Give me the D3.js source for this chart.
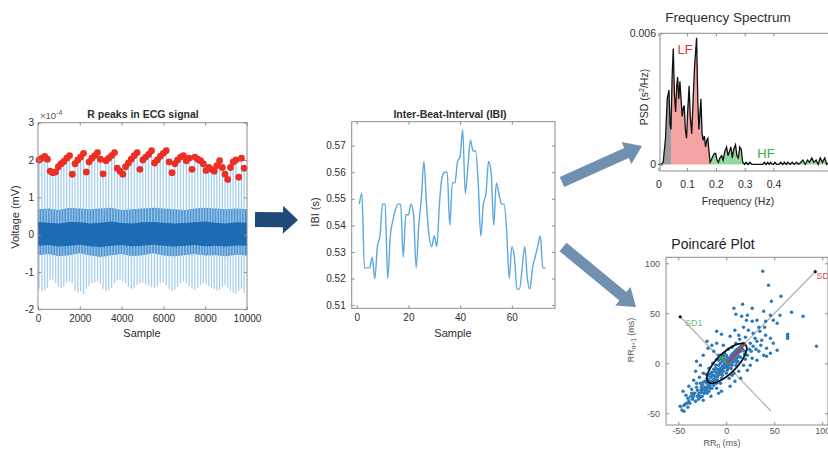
<!DOCTYPE html>
<html>
<head>
<meta charset="utf-8">
<script src="https://cdn.jsdelivr.net/npm/d3@7"></script>
<style>
body { margin: 0; background: #fff; }
svg { display: block; }
</style>
</head>
<body>
<svg id="fig" width="828" height="455"></svg>
<script>
// ---- data ----

// inter-beat intervals (s), samples 1..73
var ibiValues = [
  0.548, 0.552, 0.524, 0.524, 0.524, 0.528, 0.520, 0.532, 0.536, 0.548,
  0.548, 0.520, 0.536, 0.542, 0.546, 0.548, 0.548, 0.528, 0.544, 0.544,
  0.548, 0.544, 0.524, 0.540, 0.550, 0.564, 0.548, 0.536, 0.532, 0.536,
  0.532, 0.548, 0.558, 0.560, 0.560, 0.540, 0.556, 0.556, 0.564, 0.566,
  0.576, 0.552, 0.562, 0.572, 0.568, 0.568, 0.556, 0.536, 0.548, 0.552,
  0.564, 0.560, 0.540, 0.556, 0.552, 0.548, 0.548, 0.538, 0.520, 0.532,
  0.528, 0.516, 0.516, 0.524, 0.532, 0.520, 0.516, 0.524, 0.528, 0.532,
  0.536, 0.524, 0.524
];

// ECG: R peak amplitude and S trough amplitude per beat (x1e-4 mV)
var rAmp = [
  2.00, 2.05, 2.10, 2.02, 1.70, 1.66, 1.68, 1.82, 1.90, 1.96,
  2.05, 2.12, 1.62, 1.90, 2.00, 2.08, 2.18, 1.68, 1.95, 2.05,
  2.12, 2.20, 2.02, 1.63, 1.98, 2.05, 2.12, 2.20, 1.78, 1.70,
  1.62, 1.82, 1.92, 2.02, 2.12, 2.20, 1.75, 2.00, 2.08, 2.15,
  2.25, 1.92, 2.00, 2.10, 2.18, 2.25, 1.95, 1.66, 1.90, 2.00,
  2.08, 2.12, 1.98, 2.05, 1.75, 2.08, 2.02, 1.98, 1.90, 1.72,
  1.80, 1.75, 1.70, 1.85, 1.98, 1.80, 1.62, 1.48, 1.80, 1.95,
  2.00, 1.54, 2.05, 1.78
];
var sAmp = [
  -1.45, -1.50, -1.48, -1.42, -1.22, -1.20, -1.30, -1.40, -1.42, -1.38,
  -1.28, -1.25, -1.30, -1.50, -1.55, -1.52, -1.60, -1.45, -1.38, -1.30,
  -1.28, -1.25, -1.32, -1.45, -1.50, -1.48, -1.42, -1.30, -1.22, -1.20,
  -1.25, -1.30, -1.40, -1.45, -1.42, -1.35, -1.30, -1.28, -1.32, -1.36,
  -1.40, -1.42, -1.38, -1.30, -1.28, -1.35, -1.45, -1.50, -1.48, -1.40,
  -1.30, -1.25, -1.30, -1.38, -1.45, -1.48, -1.42, -1.35, -1.30, -1.32,
  -1.38, -1.42, -1.46, -1.50, -1.48, -1.40, -1.35, -1.42, -1.50, -1.55,
  -1.58, -1.50, -1.45, -1.56
];
var fsHz = 248, firstPeakSample = 50;

// ECG baseline band (dense part of the trace)
var bandSamples = [0, 500, 1000, 1500, 2000, 2500, 3000, 3500, 4000, 4500, 5000,
  5500, 6000, 6500, 7000, 7500, 8000, 8500, 9000, 9500, 10000];
var bandUpper = [0.68, 0.70, 0.66, 0.72, 0.70, 0.68, 0.70, 0.72, 0.66, 0.68, 0.70,
  0.72, 0.70, 0.68, 0.66, 0.70, 0.72, 0.70, 0.68, 0.70, 0.68];
var bandLower = [-0.55, -0.52, -0.58, -0.55, -0.50, -0.56, -0.60, -0.55, -0.52, -0.58, -0.55,
  -0.50, -0.56, -0.58, -0.55, -0.52, -0.56, -0.55, -0.58, -0.54, -0.56];
var coreUpper = [0.34, 0.32, 0.30, 0.34, 0.33, 0.30, 0.32, 0.35, 0.31, 0.30, 0.33,
  0.34, 0.32, 0.30, 0.31, 0.33, 0.35, 0.32, 0.30, 0.33, 0.32];
var coreLower = [-0.30, -0.28, -0.32, -0.30, -0.27, -0.31, -0.33, -0.30, -0.28, -0.31, -0.30,
  -0.27, -0.30, -0.32, -0.30, -0.28, -0.31, -0.30, -0.32, -0.29, -0.30];

var ecgTicksX = [0, 2000, 4000, 6000, 8000, 10000];
var ecgTicksY = [-2, -1, 0, 1, 2, 3];
var ibiTicksX = [0, 20, 40, 60];
var ibiTicksY = [0.51, 0.52, 0.53, 0.54, 0.55, 0.56, 0.57];

// power spectral density
var freq = [0.000, 0.010, 0.017, 0.025, 0.031, 0.037, 0.041, 0.044, 0.048, 0.052,
  0.056, 0.060, 0.064, 0.067, 0.071, 0.075, 0.079, 0.083, 0.087, 0.090,
  0.094, 0.098, 0.102, 0.107, 0.111, 0.116, 0.121, 0.126, 0.133, 0.137,
  0.141, 0.148, 0.152, 0.156, 0.160, 0.164, 0.168, 0.172, 0.176, 0.180,
  0.184, 0.190, 0.195, 0.199, 0.204, 0.209, 0.214, 0.220, 0.225, 0.231,
  0.237, 0.242, 0.247, 0.252, 0.257, 0.262, 0.268, 0.273, 0.278, 0.283,
  0.288, 0.293, 0.300, 0.305, 0.312, 0.318, 0.325, 0.333, 0.340, 0.348,
  0.355, 0.362, 0.368, 0.374, 0.380, 0.385, 0.390, 0.396, 0.400, 0.405,
  0.412, 0.418, 0.425, 0.432, 0.438, 0.445, 0.450, 0.458, 0.465, 0.472,
  0.480, 0.487, 0.495, 0.502, 0.510, 0.518, 0.525, 0.533, 0.540, 0.548,
  0.555, 0.562, 0.570, 0.578, 0.585, 0.592, 0.600];
var psd = [0, 0, 0.0001, 0.0012, 0.0030, 0.0034, 0.0018, 0.0016, 0.0040, 0.0053,
  0.0032, 0.0024, 0.0036, 0.0040, 0.0030, 0.0038, 0.0030, 0.0022, 0.0026, 0.0027,
  0.0016, 0.0012, 0.0024, 0.0036, 0.0022, 0.0014, 0.0030, 0.0045, 0.0058, 0.0030,
  0.0016, 0.0030, 0.0014, 0.0011, 0.0013, 0.0008, 0.0011, 0.0012, 0.0006, 0.0001,
  0.0002, 0.0004, 0.0005, 0.0005, 0.0002, 0.0001, 0.0003, 0.0004, 0.0002, 0.0006,
  0.0008, 0.0004, 0.0006, 0.0008, 0.0003, 0.0007, 0.0009, 0.0004, 0.0003, 0.0008,
  0.0007, 0.0001, 0.0000, 0.0001, 0.0000, 0.0001, 0.0000, 0.0000, 0.0000, 0.0000,
  0.0000, 0.0000, 0.0001, 0.0000, 0.0001, 0.0000, 0.0001, 0.0000, 0.0000, 0.0001,
  0.0000, 0.0000, 0.0001, 0.0000, 0.0001, 0.0000, 0.0001, 0.0000, 0.0001, 0.0000,
  0.0001, 0.0000, 0.0001, 0.0002, 0.0000, 0.0002, 0.0001, 0.0003, 0.0001, 0.0002,
  0.0000, 0.0003, 0.0001, 0.0003, 0.0000, 0.0001, 0.0000];
var vlfEdge = 0.044, lfEdge = 0.18;
var freqTicks = [0, 0.1, 0.2, 0.3, 0.4];
var psdTicks = [0, 0.006];

// Poincare plot: [RR_n, RR_n+1] (ms)
var poincarePairs = [
  [38, 92], [44, 78], [57, 67], [47, 62], [17, 59], [8, 55], [27, 55], [39, 52], [68, 51], [80, 47],
  [10, 49], [16, 47], [22, 48], [21, 43], [27, 42], [32, 43], [41, 42], [46, 48], [49, 43], [53, 40],
  [56, 48], [64, 29], [64, 27], [64, 25], [94, 17], [-10, 32], [-5, 29], [4, 27], [9, 33], [13, 28],
  [23, 33], [28, 30], [35, 32], [41, 28], [46, 25], [49, 20], [42, 15], [46, 10], [39, 8], [34, 12],
  [28, 17], [25, 20], [32, 22], [37, 23], [53, 13], [42, 7], [32, 3], [27, 5], [22, 8], [-20, 22],
  [-15, 18], [-10, 20], [-19, 15], [-13, 12], [-8, 8], [-24, 8], [-31, 2], [-27, -2], [-32, -8], [-34, -17],
  [-31, -20], [-39, -23], [-45, -28], [-48, -43], [-46, -47], [-43, -41], [-39, -38], [-44, -48], [-34, -30], [-29, -32],
  [-26, -27], [-10, -25], [-5, -28], [4, -23], [9, -18], [15, -15], [22, -7], [18, -2], [25, -2], [13, -8],
  [-25, -22], [-24, -26], [-22, -18], [-22, -24], [-20, -20], [-20, -15], [-19, -23], [-18, -17], [-18, -12], [-17, -20],
  [-16, -14], [-15, -18], [-15, -9], [-14, -12], [-13, -16], [-12, -8], [-12, -13], [-11, -5], [-10, -10], [-10, -14],
  [-9, -6], [-8, -9], [-8, -2], [-7, -11], [-6, -5], [-6, 0], [-5, -7], [-4, -3], [-4, 2], [-3, -8],
  [-2, -1], [-2, 4], [-1, -4], [0, 0], [0, 3], [1, -3], [1, 6], [2, 1], [3, -2], [3, 5],
  [4, 2], [5, 8], [5, -1], [6, 4], [7, 10], [7, 1], [8, 6], [9, 12], [9, 3], [10, 8],
  [11, 5], [12, 14], [12, 10], [13, 7], [14, 16], [15, 12], [16, 18], [17, 14], [18, 20], [-30, -27],
  [-28, -30], [-27, -20], [-26, -29], [-23, -30], [-21, -27], [-30, -33], [-33, -30], [-35, -36], [-32, -38], [-37, -33],
  [-29, -36], [-25, -33], [-38, -40], [-40, -35], [-20, -30], [-15, -25], [-10, -20], [-5, -15], [0, -10], [5, -5],
  [10, -2], [-18, -5], [-14, 0], [-10, 4], [-6, 8], [-2, 10], [2, 14], [6, 16], [10, 20], [14, 24],
  [20, 26], [24, 14], [19, 9], [30, 25], [34, 36], [18, 36], [-3, 18], [-24, -10], [-28, -14], [-36, -26],
  [-42, -32], [-16, -33], [-8, -30], [6, -12], [12, 2], [20, 4], [26, 12], [36, 18], [31, 14], [40, 36],
  [-21, -11], [-17, -25], [-13, -22], [-9, -17], [-4, -12], [1, -7], [6, -2], [11, 1], [15, 6], [19, 12],
  [-22, -28], [-26, -24], [-24, -19], [-20, -25], [-17, -22], [-14, -19], [-12, -17], [-9, -13], [-7, -8], [-5, -10],
  [-3, -5], [-1, -1], [1, 2], [2, -5], [4, 5], [6, 7], [8, 9], [10, 11], [11, 14], [13, 11],
  [15, 15], [-16, -10], [-13, -6], [-11, -2], [-8, 3], [-5, 4], [-3, 7], [0, 8], [-34, -33], [-36, -30],
  [-41, -40], [-44, -42], [-40, -44], [-31, -24], [-27, -34], [-24, -37], [-18, -28], [-6, -20], [3, -15], [8, -10]
];
var sd1Line = [[-48, 46.5], [46.5, -47.7]];
var sd2Line = [[-48, -46], [92.7, 91.6]];
var ellipseCenter = [0.5, 0], sd1 = 10, sd2 = 27.5;
var poincareTicks = [-50, 0, 50, 100];

// ---- drawing ----
var FONT = "'Liberation Sans', Arial, Helvetica, sans-serif";
var AX = "#8c8c8c", TXT = "#2e2e2e";
var svg = d3.select("#fig").attr("font-family", FONT);
svg.append("rect").attr("width", 828).attr("height", 455).attr("fill", "#fff");

// MATLAB style box with inward ticks on all four sides
function frame(g, x, y, xt, yt, o) {
  var xr = x.range(), yr = y.range();
  var x0 = o.boxX0 != null ? o.boxX0 : xr[0], x1 = xr[1], y0 = yr[0], y1 = yr[1];
  var style = function (a) {
    a.attr("font-family", FONT);
    a.select(".domain").remove();
    a.selectAll("line").attr("stroke", AX);
    a.selectAll("text").attr("font-size", o.fs || 10).attr("fill", o.color || TXT);
  };
  g.append("rect").attr("x", x0).attr("y", y1).attr("width", x1 - x0).attr("height", y0 - y1)
    .attr("fill", "none").attr("stroke", AX).attr("stroke-width", 1);
  g.append("g").attr("transform", "translate(0," + y0 + ")")
    .call(d3.axisBottom(x).tickValues(xt).tickSize(-3).tickPadding(o.padX || 6).tickFormat(o.fmtX))
    .call(style);
  g.append("g").attr("transform", "translate(0," + y1 + ")")
    .call(d3.axisTop(x).tickValues(xt).tickSize(-3).tickFormat("")).call(style);
  g.append("g").attr("transform", "translate(" + x0 + ",0)")
    .call(d3.axisLeft(y).tickValues(yt).tickSize(-3).tickPadding(o.padY || 5).tickFormat(o.fmtY))
    .call(style);
  g.append("g").attr("transform", "translate(" + x1 + ",0)")
    .call(d3.axisRight(y).tickValues(yt).tickSize(-3).tickFormat("")).call(style);
}

function label(g, txt, x, y, opt) {
  opt = opt || {};
  var t = g.append("text").attr("x", x).attr("y", y)
    .attr("text-anchor", opt.anchor || "middle")
    .attr("font-size", opt.size || 11)
    .attr("font-weight", opt.weight || "normal")
    .attr("fill", opt.color || TXT)
    .text(txt);
  if (opt.rotate) t.attr("transform", "rotate(-90," + x + "," + y + ")");
  return t;
}

var str = function (d) { return String(d); };

// ---------- panel 1: R peaks in ECG ----------
var g1 = svg.append("g");
var xE = d3.scaleLinear().domain([0, 10000]).range([38, 247]);
var yE = d3.scaleLinear().domain([-2, 3]).range([309.3, 122.7]);

var peakPos = [firstPeakSample];
ibiValues.forEach(function (v, i) { peakPos.push(peakPos[i] + v * fsHz); });
var beats = peakPos.map(function (p, i) { return { s: p, r: rAmp[i], lo: sAmp[i] }; });

var bandRows = bandSamples.map(function (s, i) {
  return { s: s, hi: bandUpper[i], lo: bandLower[i], chi: coreUpper[i], clo: coreLower[i] };
});
g1.append("path").datum(bandRows)
  .attr("d", d3.area().x(function (d) { return xE(d.s); })
    .y0(function (d) { return yE(d.lo); }).y1(function (d) { return yE(d.hi); }))
  .attr("fill", "#4f93d0");

g1.append("g").selectAll("line").data(beats).join("line")
  .attr("x1", function (d) { return xE(d.s); }).attr("x2", function (d) { return xE(d.s); })
  .attr("y1", function (d) { return yE(d.lo); }).attr("y2", function (d) { return yE(d.r); })
  .attr("stroke", "#9ccaec").attr("stroke-width", 1.3).attr("stroke-opacity", 0.9);

g1.append("path").datum(bandRows)
  .attr("d", d3.area().x(function (d) { return xE(d.s); })
    .y0(function (d) { return yE(d.clo); }).y1(function (d) { return yE(d.chi); }))
  .attr("fill", "#1d6bb2");

g1.append("g").selectAll("circle").data(beats).join("circle")
  .attr("cx", function (d) { return xE(d.s); }).attr("cy", function (d) { return yE(d.r); })
  .attr("r", 3.4).attr("fill", "#ec2f24");

frame(g1, xE, yE, ecgTicksX, ecgTicksY, { fmtX: str, fmtY: str, padX: 6, padY: 4 });
label(g1, "R peaks in ECG signal", 143, 118, { size: 10.5, weight: "bold" });
var ex = label(g1, "\u00d710", 40, 119, { anchor: "start", size: 9.5, color: "#555" });
ex.append("tspan").attr("dy", -4).attr("font-size", 7).text("-4");
label(g1, "Sample", 142, 337, { size: 11 });
label(g1, "Voltage (mV)", 19, 217, { size: 11, rotate: true });

// ---------- panel 2: IBI ----------
var g2 = svg.append("g");
var xI = d3.scaleLinear().domain([-1.93, 76.7]).range([351.7, 555]);
var yI = d3.scaleLinear().domain([0.5088, 0.579]).range([308.3, 121.7]);
g2.append("path").datum(ibiValues)
  .attr("d", d3.line().curve(d3.curveMonotoneX)
    .x(function (d, i) { return xI(i + 1); }).y(function (d) { return yI(d); }))
  .attr("fill", "none").attr("stroke", "#5ea8dd").attr("stroke-width", 1.4);
frame(g2, xI, yI, ibiTicksX, ibiTicksY, {
  fmtX: str, fmtY: function (d) { return d.toFixed(2); }, padX: 6, padY: 6
});
label(g2, "Inter-Beat-Interval (IBI)", 450, 118, { size: 10.5, weight: "bold" });
label(g2, "Sample", 453, 337, { size: 11 });
label(g2, "IBI (s)", 319, 212, { size: 11, rotate: true });

// ---------- panel 3: frequency spectrum ----------
var g3 = svg.append("g");
var xF = d3.scaleLinear().domain([0, 0.6]).range([658.3, 831.1]);
var yF = d3.scaleLinear().domain([-0.0003, 0.006]).range([171, 33.3]);
var spec = freq.map(function (f, i) { return { f: f, p: psd[i] }; });
var bands = [
  { from: 0, to: vlfEdge, fill: "#9c9c9c" },
  { from: vlfEdge, to: lfEdge, fill: "#f4a3a3" },
  { from: lfEdge, to: 0.6, fill: "#93d69f" }
];
var areaF = d3.area().x(function (d) { return xF(d.f); }).y0(yF(0)).y1(function (d) { return yF(d.p); });
bands.forEach(function (b, i) {
  g3.append("clipPath").attr("id", "band" + i).append("rect")
    .attr("x", xF(b.from)).attr("y", 0).attr("width", xF(b.to) - xF(b.from)).attr("height", 200);
  g3.append("path").datum(spec).attr("d", areaF).attr("fill", b.fill)
    .attr("clip-path", "url(#band" + i + ")");
});
g3.append("path").datum(spec)
  .attr("d", d3.line().x(function (d) { return xF(d.f); }).y(function (d) { return yF(d.p); }))
  .attr("fill", "none").attr("stroke", "#111").attr("stroke-width", 1.3);
frame(g3, xF, yF, freqTicks, psdTicks, {
  boxX0: 660, fs: 10.5, padX: 10, padY: 4,
  fmtX: function (d) { return d === 0 ? "0" : d.toFixed(1); },
  fmtY: function (d) { return d === 0 ? "0" : d.toFixed(3); }
});
label(g3, "Frequency Spectrum", 728, 22, { size: 13.5 });
label(g3, "Frequency (Hz)", 738, 205, { size: 10.5 });
var psdLab = label(g3, "PSD (s", 648, 97, { size: 10.5, rotate: true });
psdLab.append("tspan").attr("dy", -4).attr("font-size", 7).text("2");
psdLab.append("tspan").attr("dy", 4).text("/Hz)");
label(g3, "LF", 685, 54, { size: 13, color: "#e2342f" });
label(g3, "HF", 766, 158, { size: 13, color: "#3dae4a" });

// ---------- panel 4: Poincare ----------
var g4 = svg.append("g");
var xP = d3.scaleLinear().domain([-62.8, 106]).range([666, 828]);
var yP = d3.scaleLinear().domain([-61.7, 106]).range([425, 257.3]);
[sd1Line, sd2Line].forEach(function (ln) {
  g4.append("line")
    .attr("x1", xP(ln[0][0])).attr("y1", yP(ln[0][1]))
    .attr("x2", xP(ln[1][0])).attr("y2", yP(ln[1][1]))
    .attr("stroke", "#b3b3b3").attr("stroke-width", 1.3);
});
g4.append("g").selectAll("circle").data(poincarePairs).join("circle")
  .attr("cx", function (d) { return xP(d[0]); }).attr("cy", function (d) { return yP(d[1]); })
  .attr("r", 1.7).attr("fill", "#2a79b8");
var cx = xP(ellipseCenter[0]), cy = yP(ellipseCenter[1]);
var rx = sd2 * (xP(1) - xP(0)), ry = sd1 * (yP(0) - yP(1));
g4.append("ellipse").attr("cx", cx).attr("cy", cy).attr("rx", rx).attr("ry", ry)
  .attr("transform", "rotate(-45," + cx + "," + cy + ")")
  .attr("fill", "none").attr("stroke", "#111").attr("stroke-width", 1.8);
var d45 = Math.SQRT1_2;
g4.append("line").attr("x1", cx).attr("y1", cy)
  .attr("x2", xP(ellipseCenter[0] + sd2 * d45)).attr("y2", yP(ellipseCenter[1] + sd2 * d45))
  .attr("stroke", "#d62f3a").attr("stroke-width", 1.8);
g4.append("line").attr("x1", cx).attr("y1", cy)
  .attr("x2", xP(ellipseCenter[0] - sd1 * d45)).attr("y2", yP(ellipseCenter[1] + sd1 * d45))
  .attr("stroke", "#3aa84a").attr("stroke-width", 1.8);
[sd1Line[0], sd2Line[1]].forEach(function (p) {
  g4.append("circle").attr("cx", xP(p[0])).attr("cy", yP(p[1])).attr("r", 1.6).attr("fill", "#111");
});
frame(g4, xP, yP, poincareTicks, poincareTicks, { fmtX: str, fmtY: str, fs: 9, padX: 3, padY: 6, color: "#555" });
label(g4, "SD1", xP(-43), yP(37), { anchor: "start", size: 9, color: "#6cc26e" });
label(g4, "SD2", xP(94), yP(84), { anchor: "start", size: 9, color: "#d0485a" });
label(g4, "Poincar\u00e9 Plot", 713, 249, { size: 14, color: "#222" });
var xl = label(g4, "RR", 722, 446, { size: 9, color: "#555" });
xl.append("tspan").attr("dy", 2).attr("font-size", 6.5).text("n");
xl.append("tspan").attr("dy", -2).text(" (ms)");
var yl = label(g4, "RR", 634, 340, { size: 9, color: "#555", rotate: true });
yl.append("tspan").attr("dy", 2).attr("font-size", 6.5).text("n+1");
yl.append("tspan").attr("dy", -2).text(" (ms)");

// ---------- arrows ----------
var arrows = [
  { from: [255, 219.5], to: [298, 220], shaft: 7.5, head: 14, len: 15, color: "#1f4a78" },
  { from: [562, 182], to: [642, 146], shaft: 5.5, head: 12, len: 17, color: "#7190b0" },
  { from: [563, 247], to: [636, 307], shaft: 5.5, head: 12, len: 17, color: "#7190b0" }
];
arrows.forEach(function (a) {
  var dx = a.to[0] - a.from[0], dy = a.to[1] - a.from[1], L = Math.hypot(dx, dy);
  var ux = dx / L, uy = dy / L, px = -uy, py = ux;
  var bx = a.to[0] - ux * a.len, by = a.to[1] - uy * a.len;
  var pts = [
    [a.from[0] + px * a.shaft, a.from[1] + py * a.shaft],
    [bx + px * a.shaft, by + py * a.shaft],
    [bx + px * a.head, by + py * a.head],
    a.to,
    [bx - px * a.head, by - py * a.head],
    [bx - px * a.shaft, by - py * a.shaft],
    [a.from[0] - px * a.shaft, a.from[1] - py * a.shaft]
  ];
  svg.append("path").attr("d", d3.line()(pts) + "Z").attr("fill", a.color);
});
</script>
</body>
</html>
